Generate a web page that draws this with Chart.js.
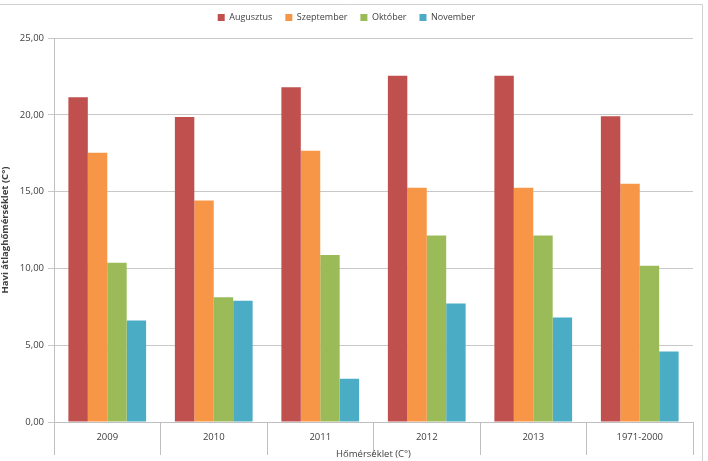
<!DOCTYPE html>
<html>
<head>
<meta charset="utf-8">
<script src="https://cdn.jsdelivr.net/npm/chart.js@4/dist/chart.umd.min.js"></script>
<style>
  html, body { margin: 0; padding: 0; background: #fff; }
  #wrap { width: 708px; height: 461px; position: relative; }
</style>
</head>
<body>
<div id="wrap"><canvas id="chart"></canvas></div>
<script>
// Data
const categories = ['2009', '2010', '2011', '2012', '2013', '1971-2000'];
const augusztus = [21.15, 19.85, 21.8, 22.55, 22.55, 19.9];
const szeptember = [17.53, 14.42, 17.66, 15.25, 15.25, 15.51];
const oktober = [10.36, 8.12, 10.88, 12.14, 12.14, 10.17];
const november = [6.6, 7.89, 2.81, 7.71, 6.8, 4.59];

const seriesNames = ['Augusztus', 'Szeptember', 'Október', 'November'];
const COLORS = ['#c0504d', '#f79646', '#9bbb59', '#4bacc6'];

const FONT = 'Open Sans, Liberation Sans, sans-serif';

// frame lines (top and right edge, like the original picture)
const framePlugin = {
    id: 'frame',
    beforeDraw(chart) {
        const ctx = chart.ctx;
        ctx.save();
        ctx.strokeStyle = '#d0d0d0';
        ctx.lineWidth = 1;
        ctx.beginPath();
        ctx.moveTo(0, 4.5);
        ctx.lineTo(702.5, 4.5);
        ctx.lineTo(702.5, 461);
        ctx.stroke();
        ctx.restore();
    }
};

// fix legend height so chart area starts at the right spot
const legendHeight = {
    id: 'legendHeight',
    beforeInit(chart) {
        const origFit = chart.legend.fit;
        chart.legend.fit = function() {
            origFit.bind(chart.legend)();
            this.height = 38;
        };
    }
};

new Chart(document.getElementById('chart'), {
    type: 'bar',
    data: {
        labels: categories,
        datasets: [augusztus, szeptember, oktober, november].map((vals, i) => ({
            label: seriesNames[i],
            data: vals,
            backgroundColor: COLORS[i],
            borderWidth: 0,
            categoryPercentage: 0.73,
            barPercentage: 1
        }))
    },
    options: {
        responsive: true,
        maintainAspectRatio: false,
        animation: false,
        layout: { padding: { top: 0, right: 15, bottom: 0, left: 0 } },
        plugins: {
            legend: {
                position: 'top',
                labels: {
                    boxWidth: 7,
                    boxHeight: 7,
                    padding: 13,
                    color: '#404040',
                    font: { family: FONT, size: 9 }
                }
            },
            tooltip: { enabled: false }
        },
        scales: {
            x: {
                grid: {
                    offset: true,
                    drawOnChartArea: false,
                    drawTicks: true,
                    tickLength: 33,
                    color: '#bfbfbf'
                },
                border: { color: '#bfbfbf' },
                ticks: {
                    padding: -23,
                    color: '#404040',
                    font: { family: FONT, size: 9.5 }
                },
                title: {
                    display: true,
                    text: 'Hőmérséklet (C°)',
                    color: '#404040',
                    font: { family: FONT, size: 9.5 },
                    padding: { top: 0, bottom: 1 }
                },
                afterFit(scale) { scale.height = 39; }
            },
            y: {
                min: 0,
                max: 25,
                ticks: {
                    stepSize: 5,
                    padding: 4,
                    color: '#404040',
                    font: { family: FONT, size: 9.5 },
                    callback: v => v.toFixed(2).replace('.', ',')
                },
                grid: {
                    color: '#c8c8c8',
                    drawTicks: true,
                    tickLength: 6
                },
                border: { color: '#bfbfbf' },
                title: {
                    display: true,
                    text: 'Havi átlaghőmérséklet (C°)',
                    color: '#404040',
                    font: { family: FONT, size: 9.5, weight: 'bold' },
                    padding: { top: 0, bottom: 0 }
                },
                afterFit(scale) { scale.width = 54; }
            }
        }
    },
    plugins: [framePlugin, legendHeight]
});
</script>
</body>
</html>
